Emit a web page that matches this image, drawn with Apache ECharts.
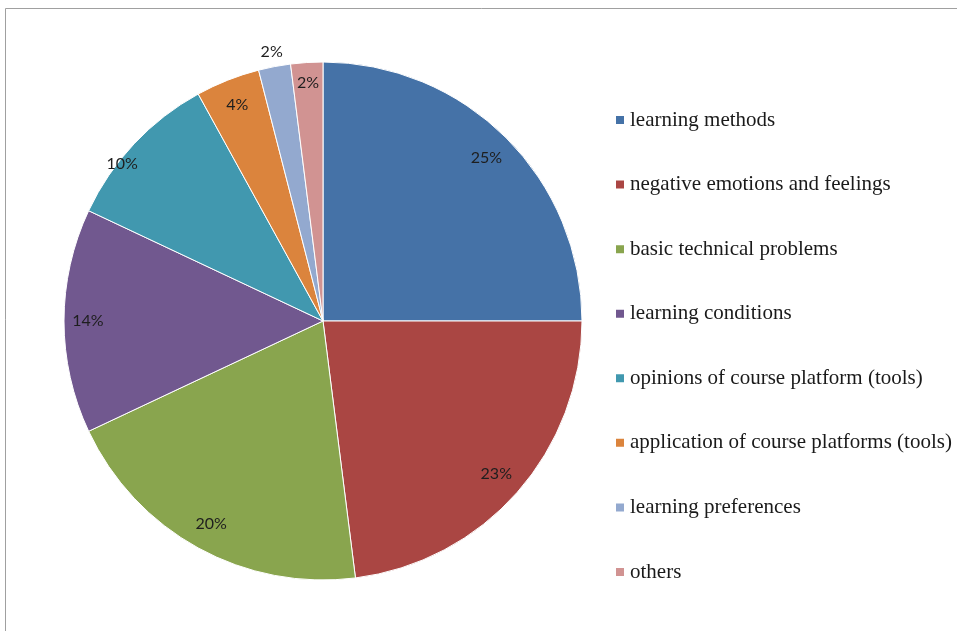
<!DOCTYPE html>
<html>
<head>
<meta charset="utf-8">
<script src="https://cdn.jsdelivr.net/npm/echarts@6/dist/echarts.min.js"></script>
<style>
  html, body { margin: 0; padding: 0; background: #fff; }
  #chart { width: 957px; height: 631px; }
</style>
</head>
<body>
<div id="chart"></div>
<script>
// Share of topics (percent)
const categories = [
  'learning methods',
  'negative emotions and feelings',
  'basic technical problems',
  'learning conditions',
  'opinions of course platform (tools)',
  'application of course platforms (tools)',
  'learning preferences',
  'others'
];
const shares = [25, 23, 20, 14, 10, 4, 2, 2];

const colors = ['#4572A7', '#AA4643', '#89A54E', '#71588F', '#4198AF', '#DB843D', '#93A9CF', '#D19392'];

// Pie geometry
const CENTER = [323, 321];
const R = 259;
// Distance of each value label from the centre, plus a small nudge where needed
const labelDist = [228, 228, 229, 232, 230, 230, 271, 236];
const labelNudge = [[0, 0], [0, 0], [0, 0], [0, 0], [-31, 2], [0, 0], [0, 0], [0, 0]];

const chart = echarts.init(document.getElementById('chart'), null, { renderer: 'canvas' });

const series = [{
  type: 'pie',
  center: CENTER,
  radius: [0, R],
  startAngle: 90,
  clockwise: true,
  avoidLabelOverlap: false,
  silent: true,
  label: { show: false },
  labelLine: { show: false },
  itemStyle: { borderColor: '#ffffff', borderWidth: 1 },
  emphasis: { disabled: true },
  data: categories.map((name, i) => ({
    name, value: shares[i], itemStyle: { color: colors[i] }
  }))
}];

// Transparent rings that only carry one value label each, at the ring's mid radius
shares.forEach((_, k) => {
  const d = labelDist[k];
  const ring = d <= R ? [2 * d - R, R] : [R, 2 * d - R];
  series.push({
    type: 'pie',
    center: CENTER,
    radius: ring,
    startAngle: 90,
    clockwise: true,
    avoidLabelOverlap: false,
    silent: true,
    labelLine: { show: false },
    emphasis: { disabled: true },
    itemStyle: { color: 'rgba(0,0,0,0)', borderWidth: 0 },
    data: shares.map((v, j) => ({
      value: v,
      label: {
        show: j === k,
        position: 'inside',
        offset: labelNudge[k],
        formatter: '{c}%',
        fontFamily: 'Lato, "Open Sans", sans-serif',
        fontSize: 16,
        color: '#1e1e1e'
      }
    }))
  });
});

chart.setOption({
  animation: false,
  backgroundColor: '#ffffff',
  color: colors,
  legend: {
    orient: 'vertical',
    left: 614,
    top: 109,
    padding: 0,
    itemWidth: 10,
    itemHeight: 10,
    itemGap: 42.57,
    icon: 'rect',
    selectedMode: false,
    data: categories,
    textStyle: {
      fontFamily: '"Liberation Serif", "Times New Roman", serif',
      fontSize: 21,
      lineHeight: 22,
      color: '#1a1a1a'
    }
  },
  graphic: [
    { type: 'line', shape: { x1: 5.5, y1: 8.5, x2: 957, y2: 8.5 }, style: { stroke: '#a0a0a0', lineWidth: 1 }, silent: true },
    { type: 'line', shape: { x1: 5.5, y1: 8.5, x2: 5.5, y2: 631 }, style: { stroke: '#a0a0a0', lineWidth: 1 }, silent: true }
  ],
  series
});
</script>
</body>
</html>
